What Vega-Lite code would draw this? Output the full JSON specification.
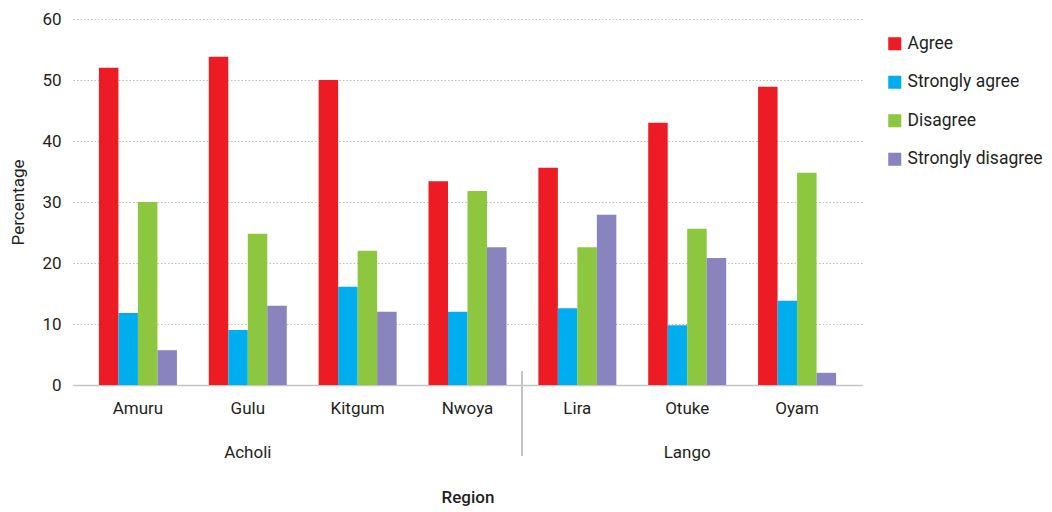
{
  "$schema": "https://vega.github.io/schema/vega-lite/v6.json",
  "autosize": {"type": "none"},
  "width": 789,
  "height": 366,
  "padding": {"left": 73, "top": 19, "right": 190, "bottom": 127},
  "config": {
    "font": "Roboto",
    "view": {"stroke": null},
    "axis": {"labelFont": "Roboto", "titleFont": "Roboto", "labelColor": "#231f20", "titleColor": "#231f20"},
    "axisY": {
      "titleFontSize": 17,
      "titleFontWeight": "normal",
      "titlePadding": 14,
      "labelFontSize": 17,
      "labelPadding": 12,
      "ticks": false,
      "domain": false,
      "grid": true,
      "gridColor": "#bdbdbd",
      "gridDash": [1.5, 2],
      "gridWidth": 1
    },
    "legend": {"labelFont": "Roboto"}
  },
  "data": {
    "values": [
      {"district": "Amuru", "answer": "Agree", "value": 52.0},
      {"district": "Amuru", "answer": "Strongly agree", "value": 11.8},
      {"district": "Amuru", "answer": "Disagree", "value": 30.0},
      {"district": "Amuru", "answer": "Strongly disagree", "value": 5.7},
      {"district": "Gulu", "answer": "Agree", "value": 53.8},
      {"district": "Gulu", "answer": "Strongly agree", "value": 9.0},
      {"district": "Gulu", "answer": "Disagree", "value": 24.8},
      {"district": "Gulu", "answer": "Strongly disagree", "value": 13.0},
      {"district": "Kitgum", "answer": "Agree", "value": 50.0},
      {"district": "Kitgum", "answer": "Strongly agree", "value": 16.1},
      {"district": "Kitgum", "answer": "Disagree", "value": 22.0},
      {"district": "Kitgum", "answer": "Strongly disagree", "value": 12.0},
      {"district": "Nwoya", "answer": "Agree", "value": 33.4},
      {"district": "Nwoya", "answer": "Strongly agree", "value": 12.0},
      {"district": "Nwoya", "answer": "Disagree", "value": 31.8},
      {"district": "Nwoya", "answer": "Strongly disagree", "value": 22.6},
      {"district": "Lira", "answer": "Agree", "value": 35.6},
      {"district": "Lira", "answer": "Strongly agree", "value": 12.6},
      {"district": "Lira", "answer": "Disagree", "value": 22.6},
      {"district": "Lira", "answer": "Strongly disagree", "value": 27.9},
      {"district": "Otuke", "answer": "Agree", "value": 43.0},
      {"district": "Otuke", "answer": "Strongly agree", "value": 9.8},
      {"district": "Otuke", "answer": "Disagree", "value": 25.6},
      {"district": "Otuke", "answer": "Strongly disagree", "value": 20.8},
      {"district": "Oyam", "answer": "Agree", "value": 48.9},
      {"district": "Oyam", "answer": "Strongly agree", "value": 13.8},
      {"district": "Oyam", "answer": "Disagree", "value": 34.8},
      {"district": "Oyam", "answer": "Strongly disagree", "value": 2.0}
    ]
  },
  "encoding": {
    "x": {
      "field": "district",
      "type": "nominal",
      "sort": ["Amuru", "Gulu", "Kitgum", "Nwoya", "Lira", "Otuke", "Oyam"],
      "scale": {"paddingInner": 0.29, "paddingOuter": 0.236},
      "axis": {
        "title": "Region",
        "titleFontSize": 17,
        "titleFontWeight": 500,
        "titlePadding": 29,
        "labelAngle": 0,
        "labelFontSize": 17,
        "labelPadding": 15,
        "labelLineHeight": 44,
        "labelExpr": "datum.value == 'Gulu' ? ['Gulu', 'Acholi'] : datum.value == 'Otuke' ? ['Otuke', 'Lango'] : datum.value",
        "ticks": false,
        "domainColor": "#c4c4c4",
        "domainWidth": 1.5,
        "grid": false
      }
    }
  },
  "layer": [
    {
      "mark": {"type": "bar"},
      "encoding": {
        "xOffset": {
          "field": "answer",
          "type": "nominal",
          "sort": ["Agree", "Strongly agree", "Disagree", "Strongly disagree"],
          "scale": {"paddingInner": 0, "paddingOuter": 0}
        },
        "y": {
          "field": "value",
          "type": "quantitative",
          "title": "Percentage",
          "scale": {"domain": [0, 60], "nice": false},
          "axis": {"values": [0, 10, 20, 30, 40, 50, 60], "title": "Percentage"}
        },
        "color": {
          "field": "answer",
          "type": "nominal",
          "sort": ["Agree", "Strongly agree", "Disagree", "Strongly disagree"],
          "scale": {
            "domain": ["Agree", "Strongly agree", "Disagree", "Strongly disagree"],
            "range": ["#ed1c24", "#00aeef", "#8dc63f", "#8983be"]
          },
          "legend": {
            "title": null,
            "orient": "none",
            "legendX": 813,
            "legendY": 16,
            "symbolType": "square",
            "symbolSize": 170,
            "symbolStrokeWidth": 0,
            "labelFontSize": 17.5,
            "labelColor": "#231f20",
            "labelOffset": 4,
            "rowPadding": 19.5
          }
        }
      }
    },
    {
      "mark": {"type": "rule", "color": "#c4c4c4", "strokeWidth": 1.5, "clip": false},
      "encoding": {
        "x": {"datum": "Nwoya", "bandPosition": 1.2},
        "y": {"datum": 2.3, "type": "quantitative", "scale": {"domain": [0, 60], "nice": false}, "axis": {"values": [0, 10, 20, 30, 40, 50, 60], "title": "Percentage"}},
        "y2": {"datum": -11.5}
      }
    }
  ]
}
